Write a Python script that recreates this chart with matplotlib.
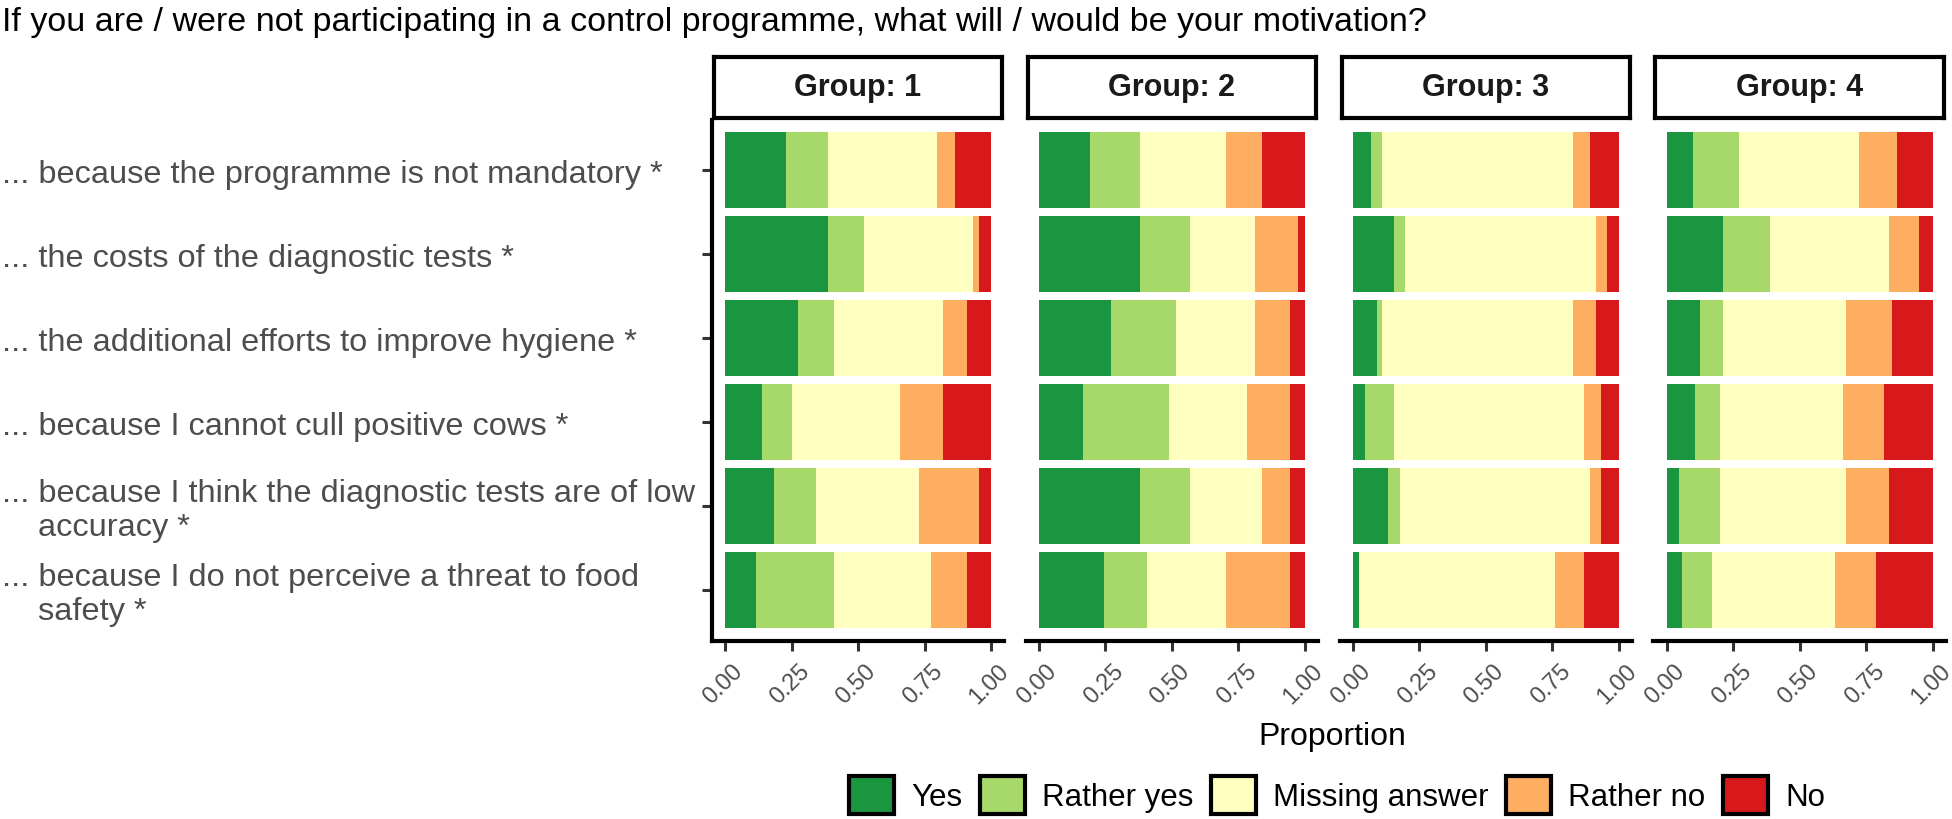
import numpy as np
import matplotlib
matplotlib.use("Agg")
import matplotlib.pyplot as plt
from matplotlib.patches import Patch
from matplotlib.transforms import ScaledTranslation, blended_transform_factory

plt.rcParams['font.family'] = ['Liberation Sans', 'DejaVu Sans']

title = "If you are / were not participating in a control programme, what will / would be your motivation?"

statements = [
    "... because the programme is not mandatory *",
    "... the costs of the diagnostic tests *",
    "... the additional efforts to improve hygiene *",
    "... because I cannot cull positive cows *",
    "... because I think the diagnostic tests are of low\n    accuracy *",
    "... because I do not perceive a threat to food\n    safety *",
]
groups = ["Group: 1", "Group: 2", "Group: 3", "Group: 4"]
answers = ["Yes", "Rather yes", "Missing answer", "Rather no", "No"]
colors = ["#1A9641", "#A6D96A", "#FFFFBF", "#FDAE61", "#D7191C"]
ticks = [0.0, 0.25, 0.5, 0.75, 1.0]
tick_labels = ["0.00", "0.25", "0.50", "0.75", "1.00"]

# share per group (rows) and statement (columns)
yes = [[0.229, 0.387, 0.274, 0.139, 0.184, 0.117],
       [0.192, 0.380, 0.271, 0.165, 0.380, 0.244],
       [0.068, 0.154, 0.090, 0.045, 0.132, 0.023],
       [0.097, 0.210, 0.127, 0.105, 0.045, 0.056]]
rather_yes = [[0.158, 0.136, 0.136, 0.113, 0.158, 0.293],
              [0.188, 0.188, 0.244, 0.324, 0.188, 0.162],
              [0.041, 0.041, 0.019, 0.109, 0.045, 0.000],
              [0.173, 0.180, 0.083, 0.094, 0.154, 0.113]]
missing = [[0.410, 0.409, 0.410, 0.406, 0.387, 0.364],
           [0.323, 0.244, 0.297, 0.293, 0.270, 0.297],
           [0.718, 0.719, 0.718, 0.714, 0.714, 0.736],
           [0.453, 0.445, 0.464, 0.464, 0.475, 0.464]]
rather_no = [[0.068, 0.023, 0.090, 0.162, 0.226, 0.136],
             [0.135, 0.162, 0.132, 0.162, 0.106, 0.241],
             [0.064, 0.041, 0.087, 0.064, 0.041, 0.109],
             [0.142, 0.113, 0.172, 0.153, 0.161, 0.154]]
no = [[0.135, 0.045, 0.090, 0.180, 0.045, 0.090],
      [0.162, 0.026, 0.056, 0.056, 0.056, 0.056],
      [0.109, 0.045, 0.086, 0.068, 0.068, 0.132],
      [0.135, 0.052, 0.154, 0.184, 0.165, 0.213]]

W, H = 1952, 820
fig = plt.figure(figsize=(W / 100, H / 100), dpi=100)

fig.text(2 / W, 1 - 7 / H, title, ha='left', va='top', fontsize=24.5, color='black')

panel_left = 711.7
panel_w = 292.6
panel_step = 313.9
panel_top = 120.5
panel_bot = 641.5

series = [yes, rather_yes, missing, rather_no, no]
y = np.arange(len(statements))

for g in range(len(groups)):
    x0 = panel_left + g * panel_step
    ax = fig.add_axes([x0 / W, 1 - panel_bot / H, panel_w / W, (panel_bot - panel_top) / H])
    left = np.zeros(len(statements))
    for vals, col in zip(series, colors):
        v = np.array(vals[g])
        ax.barh(y, v, left=left, height=0.9, color=col, linewidth=0)
        left += v
    ax.set_xlim(-0.05, 1.05)
    ax.set_ylim(len(statements) - 0.4, -0.6)
    for s in ['top', 'right']:
        ax.spines[s].set_visible(False)
    ax.spines['bottom'].set_linewidth(3)
    ax.spines['left'].set_linewidth(3)
    ax.set_xticks(ticks)
    ax.set_xticklabels(tick_labels, rotation=45, ha='right', va='top',
                       rotation_mode='anchor', fontsize=17, color='#4D4D4D')
    ax.tick_params(axis='x', length=7, width=2.2, color='#333333', pad=7)
    for lab in ax.get_xticklabels():
        lab.set_transform(lab.get_transform() + ScaledTranslation(7 / 100, 0, fig.dpi_scale_trans))
    ax.set_yticks(y)
    ax.set_yticklabels([])
    if g == 0:
        ax.tick_params(axis='y', length=7, width=2.2, color='#333333')
        tr = blended_transform_factory(fig.transFigure, ax.transData)
        tr = tr + ScaledTranslation(0, -4 / 100, fig.dpi_scale_trans)
        for yi, lab in zip(y, statements):
            ax.text(2 / W, yi, lab, transform=tr, ha='left', va='center',
                    fontsize=23.4, color='#4D4D4D', linespacing=1.2)
    else:
        ax.spines['left'].set_visible(False)
        ax.tick_params(axis='y', length=0)

    # strip
    sax = fig.add_axes([(x0 + 2) / W, 1 - 118.5 / H, (panel_w - 4) / W, 60.5 / H])
    sax.set_xticks([])
    sax.set_yticks([])
    for s in sax.spines.values():
        s.set_linewidth(3)
        s.set_color('black')
    sax.text(0.5, 0.5, groups[g], ha='center', va='center', fontsize=22,
             fontweight='bold', color='#1A1A1A', transform=sax.transAxes)

fig.text(1332 / W, 1 - 737 / H, "Proportion", ha='center', va='center', fontsize=23, color='black')

handles = [Patch(facecolor=c, edgecolor='black', linewidth=3) for c in colors]
fig.legend(handles, answers, loc='center', bbox_to_anchor=(1337 / W, 1 - 796 / H), ncol=5,
           frameon=False, handlelength=1.45, handleheight=1.45, handletextpad=0.55,
           columnspacing=0.55, fontsize=22.5, borderpad=0, borderaxespad=0)

fig.savefig("out.png", dpi=100)
